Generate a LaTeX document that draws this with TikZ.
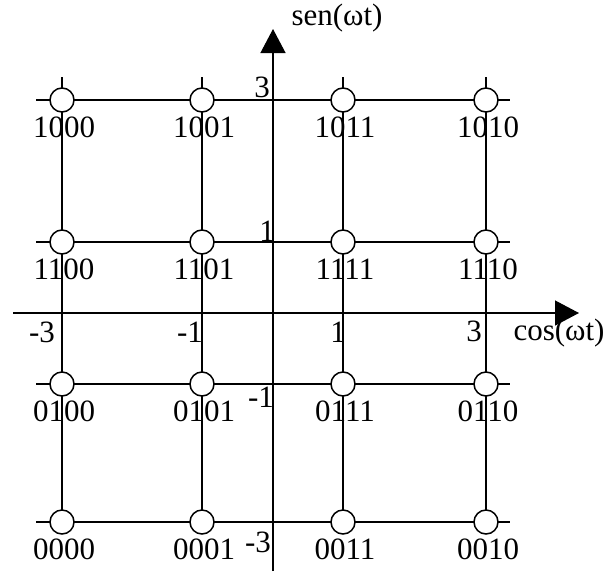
\documentclass[tikz,border=0pt]{standalone}
\usepackage{fontspec}
\setmainfont{Liberation Serif}
\usetikzlibrary{arrows.meta}
\begin{document}
\begin{tikzpicture}[x=1pt,y=-1pt,
  gridline/.style={line width=1.2pt},
  axisline/.style={line width=1.3pt,-{Triangle[length=24pt,width=25pt]}},
  sym/.style={circle,draw,fill=white,line width=1.5pt,minimum size=24pt,inner sep=0pt},
  lbl/.style={font=\fontsize{31}{31}\selectfont,inner sep=0pt},
]
\useasboundingbox (0,0) rectangle (607,571);

% grid rows and columns through the constellation points
\foreach \y [count=\r] in {100,242,384,522} {
  \coordinate (hl\r) at (36,\y);
  \coordinate (hr\r) at (510,\y);
  \draw[gridline] (hl\r) -- (hr\r);
}
\foreach \x [count=\c] in {62,202,343,486} {
  \coordinate (vt\c) at (\x,77);
  \coordinate (vb\c) at (\x,534);
  \draw[gridline] (vt\c) -- (vb\c);
}

% axes
\coordinate (xs) at (13,313);
\coordinate (xe) at (579,313);
\coordinate (ys) at (273,571);
\coordinate (ye) at (273,29);
\draw[axisline] (xs) -- (xe);
\draw[axisline] (ys) -- (ye);
\node[lbl] (xlab) at (559,333) {cos(ωt)};
\node[lbl] (ylab) at (337,18) {sen(ωt)};

% tick values
\node[lbl] (tx1) at (42,332) {-3};
\node[lbl] (tx2) at (190,332) {-1};
\node[lbl] (tx3) at (338,332) {1};
\node[lbl] (tx4) at (474,331) {3};
\node[lbl] (ty1) at (262,87) {3};
\node[lbl] (ty2) at (267,231) {1};
\node[lbl] (ty3) at (261,397) {-1};
\node[lbl] (ty4) at (258,542) {-3};

% constellation points with their bit patterns
\foreach \x/\y/\n/\code in {
  62/100/a1/1000, 202/100/a2/1001, 343/100/a3/1011, 486/100/a4/1010,
  62/242/b1/1100, 202/242/b2/1101, 343/242/b3/1111, 486/242/b4/1110,
  62/384/c1/0100, 202/384/c2/0101, 343/384/c3/0111, 486/384/c4/0110,
  62/522/d1/0000, 202/522/d2/0001, 343/522/d3/0011, 486/522/d4/0010} {
  \node[sym] (\n) at (\x,\y) {};
  \node[lbl] (\n-code) at (\x+2,\y+27) {\code};
}
\end{tikzpicture}
\end{document}
